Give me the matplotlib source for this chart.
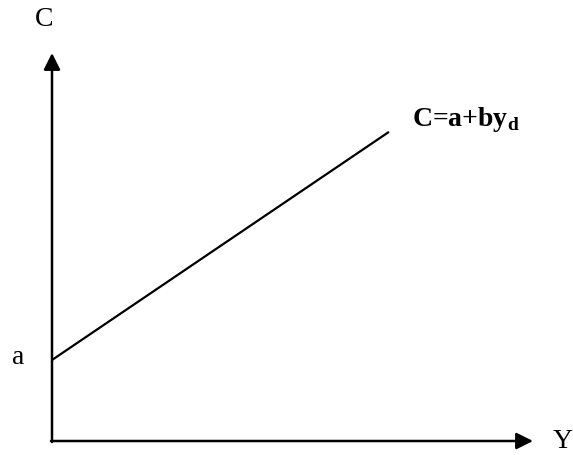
import matplotlib
matplotlib.use("Agg")
import matplotlib.pyplot as plt
import numpy as np

# Keynesian consumption function C = a + b*y_d (diagram units, origin at the axes corner)
a = 81              # intercept on the C axis
b = 0.677           # marginal propensity to consume (slope)
yd = np.array([0, 337])
C = a + b * yd

x_axis_end = 481    # where the Y arrow ends
y_axis_end = 388    # where the C arrow ends

plt.rcParams['font.family'] = ['Liberation Serif', 'DejaVu Serif']
plt.rcParams['mathtext.fontset'] = 'custom'
plt.rcParams['mathtext.rm'] = 'Liberation Serif'
plt.rcParams['mathtext.bf'] = 'Liberation Serif:bold'

fig = plt.figure(figsize=(5.73, 4.55), dpi=100)
ax = fig.add_axes([0, 0, 1, 1])
ax.set_xlim(-52, 521)
ax.set_ylim(-14, 441)
ax.axis('off')

# axes with arrowheads
arrow = dict(arrowstyle='-|>,head_length=0.5,head_width=0.25', mutation_scale=20,
             lw=1.8, color='black', shrinkA=0, shrinkB=0)
ax.annotate('', xy=(x_axis_end, 0), xytext=(-1, 0), arrowprops=arrow)
ax.annotate('', xy=(0, y_axis_end), xytext=(0, -1), arrowprops=arrow)

# consumption line
ax.plot(yd, C, color='black', lw=1.6, solid_capstyle='butt')

# labels
ax.text(-8, 422, 'C', fontsize=20, ha='center', va='center')
ax.text(-34, a + 3, 'a', fontsize=20, ha='center', va='center')
ax.text(511, 0, 'Y', fontsize=20, ha='center', va='center')
ax.text(360, 315, r'C=a+by$_\mathbf{d}$', fontsize=20, fontweight='bold',
        ha='left', va='baseline')

fig.savefig('out.png', dpi=100)
